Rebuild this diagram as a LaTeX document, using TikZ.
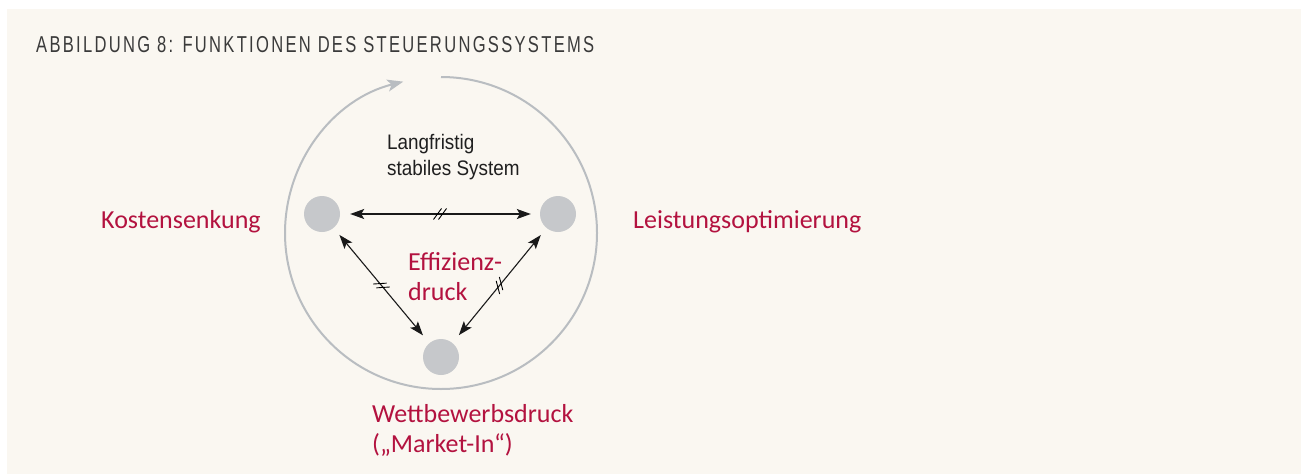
\documentclass[tikz,border=0pt]{standalone}
\usepackage{fontspec}
\setmainfont{Liberation Sans}
\newfontfamily\condfont[FakeStretch=0.9]{Liberation Sans}
\newfontfamily\titlefont[FakeStretch=0.72,LetterSpace=10]{Liberation Sans}
\newfontfamily\handfont{Carlito}
\usetikzlibrary{arrows.meta,decorations.markings}
\definecolor{bg}{HTML}{FAF7F1}
\definecolor{dotgray}{HTML}{C6C8CB}
\definecolor{ringgray}{HTML}{B9BDC1}
\definecolor{handred}{HTML}{B3123F}
\definecolor{titlegray}{HTML}{3A3A3A}
\tikzset{
  dot/.style={circle,fill=dotgray,minimum size=36pt,inner sep=0pt},
  ring/.style={draw=ringgray,line width=2pt,-{Stealth[length=16pt,width=12pt,inset=4pt]}},
  tick/.style={line width=0.9pt,-,black,shorten <=0pt,shorten >=0pt},
  link/.style={draw=black!90,line width=1.1pt,{Stealth[length=14pt,width=10pt,inset=3pt]}-{Stealth[length=14pt,width=10pt,inset=3pt]},
    postaction={decorate},
    decoration={markings,mark=at position 0.5 with {
      \draw[tick] (-6.5pt,-5.5pt)--(1.5pt,5.5pt);
      \draw[tick] (-1.5pt,-5.5pt)--(6.5pt,5.5pt);}}},
  hand/.style={text=handred,font=\handfont\fontsize{26}{30}\selectfont,inner sep=0pt},
}
\begin{document}
\begin{tikzpicture}[x=1pt,y=-1pt]
\useasboundingbox (0,0) rectangle (1301,474);
\fill[white] (0,0) rectangle (1301,474);
\fill[bg] (7,9) rectangle (1301,474);
\node[anchor=base west,inner sep=0pt,text=titlegray,font=\titlefont\fontsize{23}{27}\selectfont] (title) at (36,52) {ABBILDUNG 8: FUNKTIONEN DES STEUERUNGSSYSTEMS};
\draw[ring] (441,77) arc[start angle=-90,end angle=256,radius=156];
\node[anchor=base west,inner sep=0pt,align=left,text=black!88,font=\condfont\fontsize{21}{26}\selectfont] (stable) at (387,175) {Langfristig\\stabiles System};
\node[dot] (K) at (322,214) {};
\node[dot] (R) at (558,214) {};
\node[dot] (W) at (441,357) {};
\draw[link,shorten <=10pt,shorten >=9pt] (K) -- (R);
\draw[link,shorten <=9pt,shorten >=10pt] (K) -- (W);
\draw[link,shorten <=10pt,shorten >=9pt] (W) -- (R);
\node[hand,anchor=base west] (kost) at (101,228) {Kostensenkung};
\node[hand,anchor=base west] (leist) at (633,228) {Leistungsoptimierung};
\node[hand,anchor=base west,align=left] (eff) at (408,300) {Effizienz-\\druck};
\node[hand,anchor=base west,align=left] (wett) at (372,452) {Wettbewerbsdruck\\(„Market-In“)};
\end{tikzpicture}
\end{document}
